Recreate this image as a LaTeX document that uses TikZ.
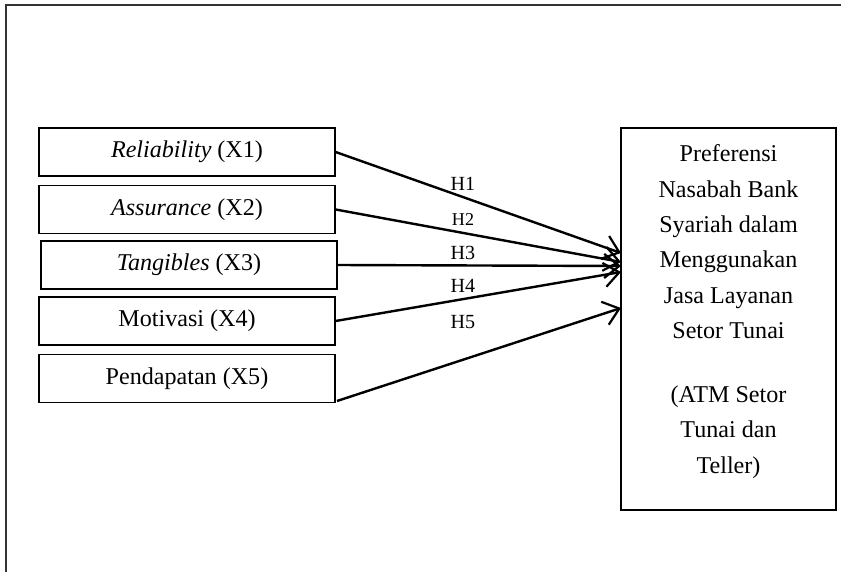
\documentclass[tikz,border=0pt]{standalone}
\usepackage{fontspec}
\setmainfont{Liberation Serif}
\usetikzlibrary{arrows.meta}

\tikzset{
    varbox/.style={draw, line width=0.6pt, minimum width=5.18cm, minimum height=0.84cm, inner sep=0pt, font=\fontsize{12}{14}\selectfont},
    hyparrow/.style={line width=1.2pt, -{Straight Barb[length=7.5pt,width=12pt,line width=1.1pt]}},
    hlabel/.style={font=\fontsize{10}{12}\selectfont}
}

\begin{document}
\begin{tikzpicture}
                \useasboundingbox (0,0) rectangle (14.7175,10.01);
                \draw[line width=0.8pt, black!80] (0.105,0) -- (0.105,9.9225) -- (14.7175,9.9225);

                \node (reliability) at (3.2725,7.35) [varbox] {\textit{Reliability} (X1)};
                \node (assurance) at (3.2725,6.344) [varbox] {\textit{Assurance} (X2)};
                \node (tangibles) at (3.3075,5.3725) [varbox] {\textit{Tangibles} (X3)};
                \node (motivasi) at (3.2725,4.3925) [varbox] {Motivasi (X4)};
                \node (pendapatan) at (3.2725,3.386) [varbox] {Pendapatan (X5)};

                \node (preferensi) at (12.749,4.4275) [draw, line width=0.6pt, minimum width=3.7625cm, minimum height=6.685cm] {};
                \node (preferensitext) at (12.749,7.48) [anchor=north, align=center, inner sep=0pt, font=\fontsize{12}{17.6}\selectfont] {Preferensi\\Nasabah Bank\\Syariah dalam\\Menggunakan\\Jasa Layanan\\Setor Tunai\\[14.2pt](ATM Setor\\Tunai dan\\Teller)};

                \coordinate (pendapatanout) at (5.8975,2.9925);
                \coordinate (end1) at (10.8675,5.5825);
                \coordinate (end2) at (10.8675,5.425);
                \coordinate (end3) at (10.8675,5.355);
                \coordinate (end4) at (10.8675,5.25);
                \coordinate (end5) at (10.8675,4.62);

                \draw[hyparrow] (reliability.east) -- (end1);
                \draw[hyparrow] (assurance.east) -- (end2);
                \draw[hyparrow] (tangibles.east) -- (end3);
                \draw[hyparrow] (motivasi.east) -- (end4);
                \draw[hyparrow] (pendapatanout) -- (end5);

                \node (h1) at (8.1025,6.79) [hlabel] {H1};
                \node (h2) at (8.1025,6.16) [hlabel, font=\fontsize{9}{11}\selectfont] {H2};
                \node (h3) at (8.1025,5.5825) [hlabel] {H3};
                \node (h4) at (8.1025,5.005) [hlabel] {H4};
                \node (h5) at (8.1025,4.375) [hlabel] {H5};
\end{tikzpicture}
\end{document}
